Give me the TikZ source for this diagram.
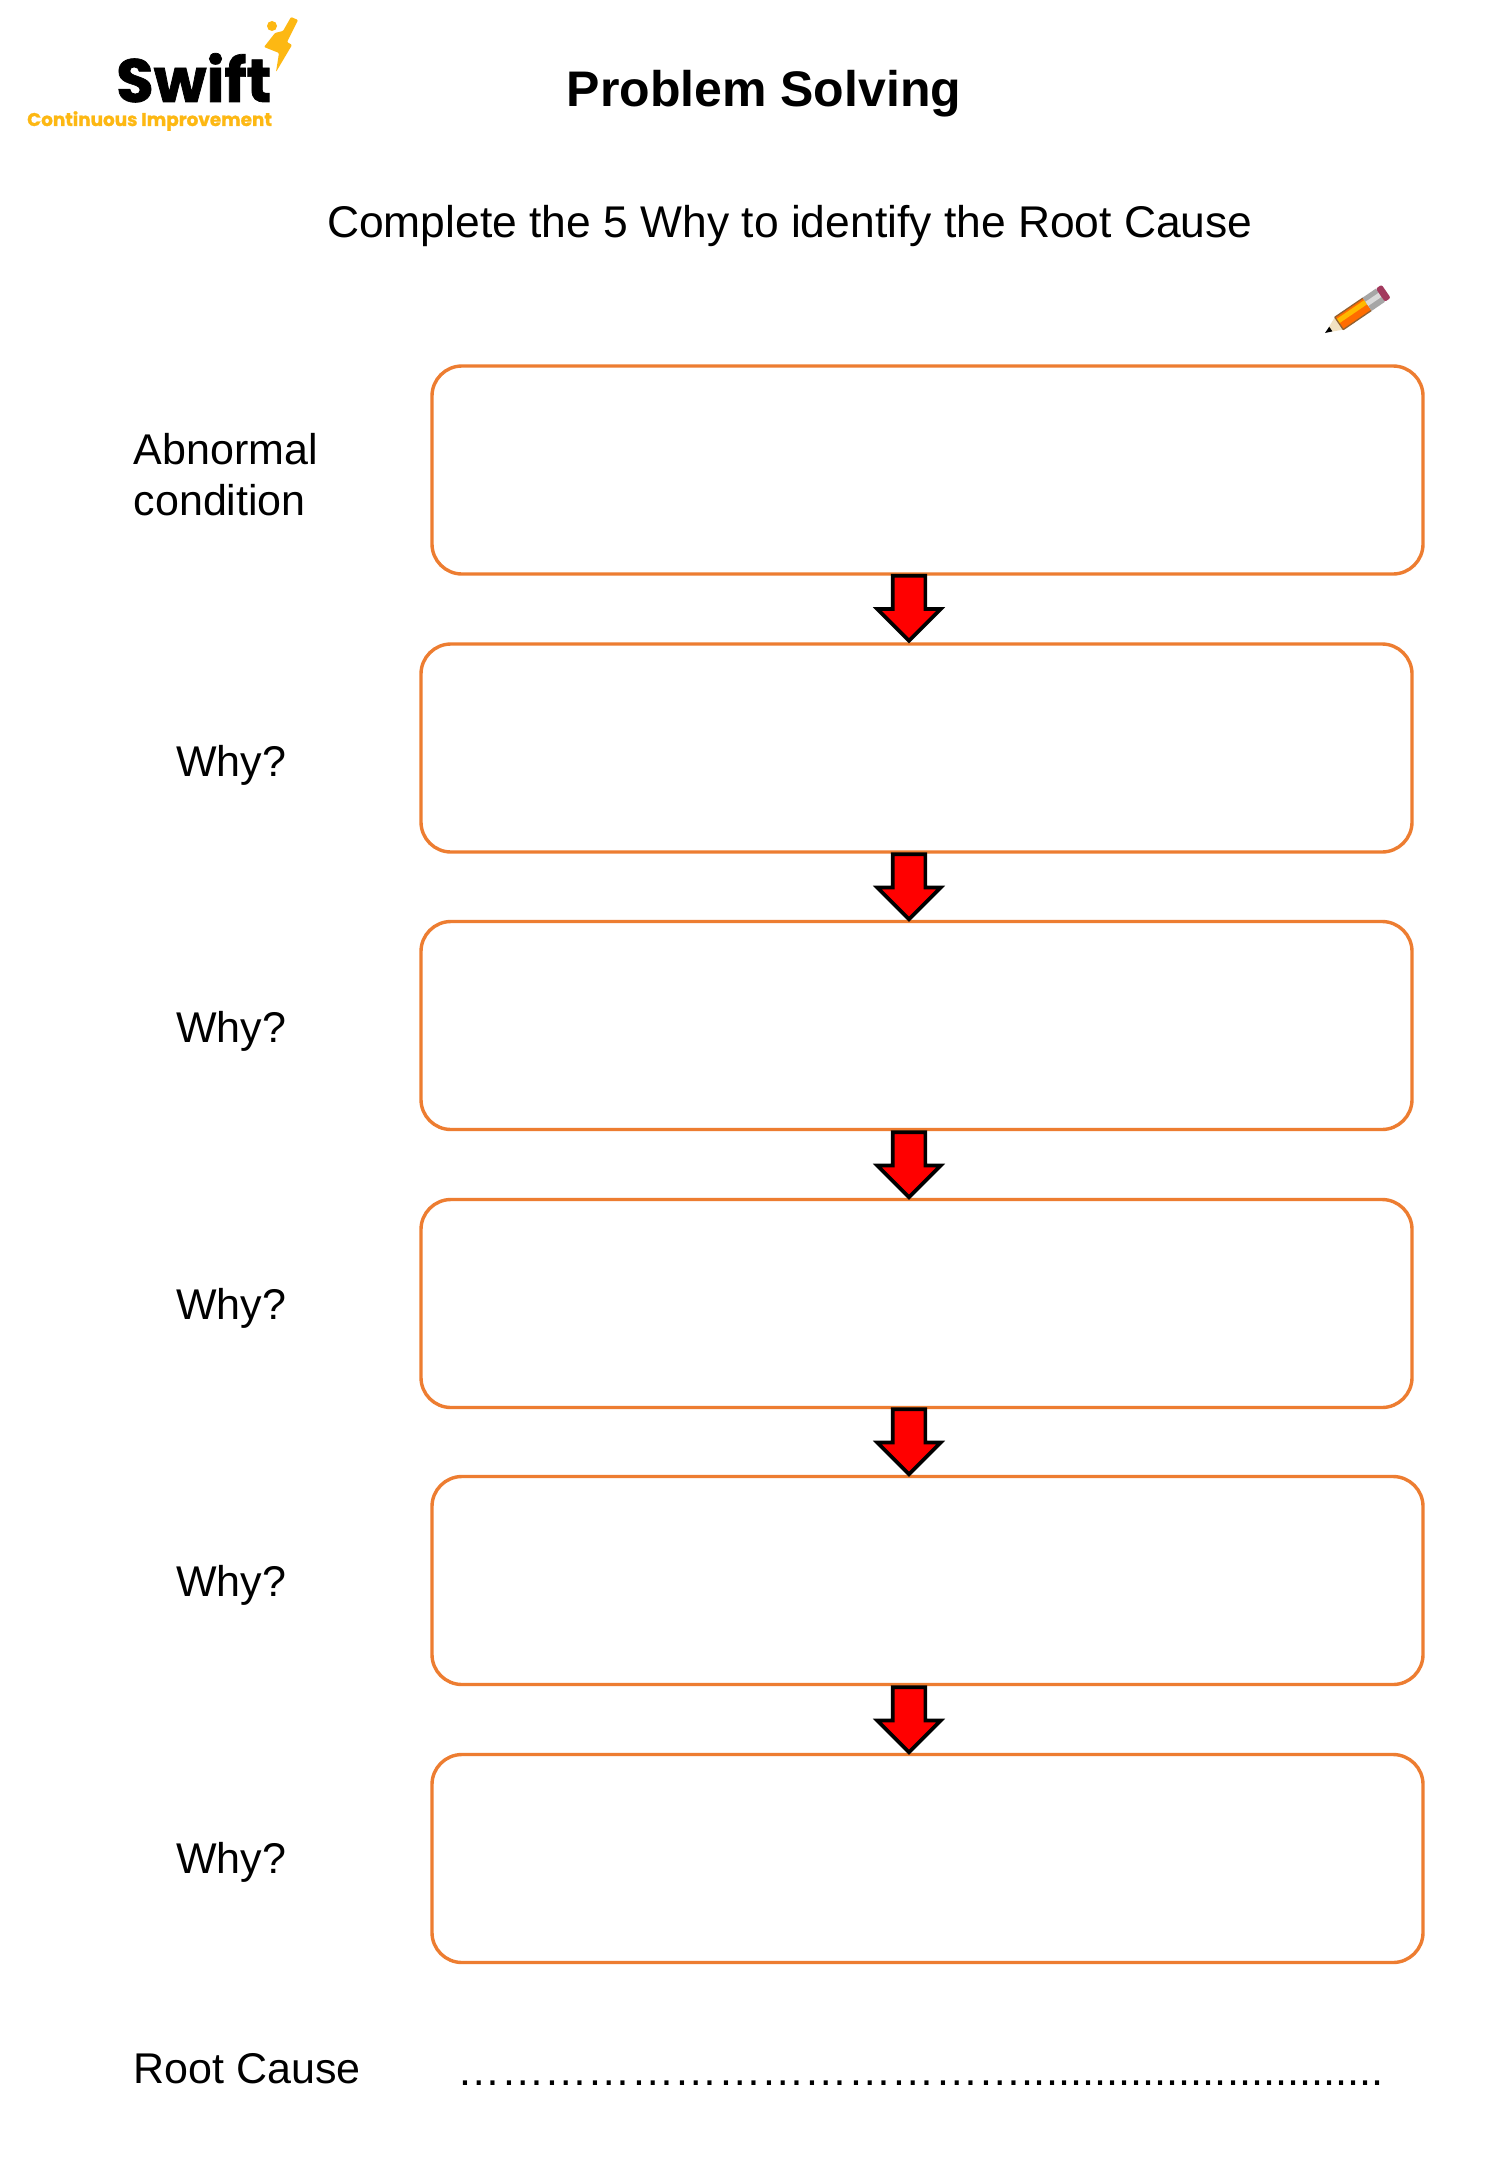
\documentclass[tikz,border=0pt]{standalone}
\usepackage{fontspec}
\setmainfont{Liberation Sans}
\newfontfamily\logofont[BoldFeatures={FakeBold=1.2}]{Poppins}
\usetikzlibrary{shapes.arrows}
\definecolor{boxorange}{HTML}{ED7D31}
\definecolor{swiftamber}{HTML}{FDB813}
\newcommand{\ellgroup}{\char"2026\char"2026\char"2026\char"2026}
\newcommand{\dotgroup}{..........}
\tikzset{
  x=1pt,y=-1pt,
  whybox/.style={draw=boxorange,line width=3.4pt,rounded corners=30pt,fill=white,inner sep=0pt,minimum width=991pt,minimum height=208pt},
  downarrow/.style={single arrow,draw=black,fill=red,line width=3.6pt,rotate=-90,anchor=tip,inner sep=14.5pt,minimum width=60pt,minimum height=65pt,single arrow head extend=15.5pt,single arrow tip angle=90,miter limit=10},
  label/.style={anchor=base west,inner sep=0pt,font=\fontsize{43}{43}\selectfont},
}
\begin{document}
\begin{tikzpicture}
\useasboundingbox (0,0) rectangle (1500,2167);
\fill[white] (0,0) rectangle (1500,2167);
% boxes
\node[whybox] (b1) at (927.5,470) {};
\node[whybox] (b2) at (916.5,748) {};
\node[whybox] (b3) at (916.5,1025.5) {};
\node[whybox] (b4) at (916.5,1303.5) {};
\node[whybox] (b5) at (927.5,1580.5) {};
\node[whybox] (b6) at (927.5,1858.5) {};
% arrows
\coordinate (ax) at (909,0);
\foreach \t/\y/\s in {b2/a1/-1,b3/a2/-2,b4/a3/-2,b5/a4/-2,b6/a5/-2}{
  \node[downarrow] (\y) at ([yshift=\s pt]\t.north -| ax) {};
}
% texts
\node[anchor=base west,inner sep=0pt,font=\fontsize{50}{50}\selectfont\bfseries] (title) at (566.5,106.5) {Problem Solving};
\node[label,font=\fontsize{44.4}{44.4}\selectfont] (sub) at (327,237.5) {Complete the 5 Why to identify the Root Cause};
\node[label] (l1a) at (133.5,464) {Abnormal};
\node[label] (l1b) at (133.5,515) {condition};
\node[label] (l2) at (176.2,776) {Why?};
\node[label] (l3) at (176.2,1042) {Why?};
\node[label] (l4) at (176.2,1319) {Why?};
\node[label] (l5) at (176.2,1596) {Why?};
\node[label] (l6) at (176.2,1873) {Why?};
\node[label] (l7) at (133.5,2083) {Root Cause};
\node[label,font=\fontsize{43.4}{43.4}\selectfont] (dots) at (457.5,2085.5) {\ellgroup\ellgroup\ellgroup\char"2026\dotgroup\dotgroup\dotgroup};
% logo
\node[anchor=base west,inner sep=0pt,font=\logofont\fontsize{61}{61}\selectfont\bfseries] (swift) at (116,102) {Swift};
\node[anchor=base west,inner sep=0pt,text=swiftamber,font=\logofont\fontsize{18.4}{18.4}\selectfont\bfseries] (ci) at (27,126) {Continuous Improvement};
\fill[swiftamber] (272,26) circle (5pt);
\fill[swiftamber,rounded corners=1pt] (291,17) -- (298,20) -- (287,42) -- (292,45) -- (276,72) -- (279,53) -- (264,47) -- (275,33) -- (283,31) -- cycle;
% pencil
\begin{scope}[shift={(1325,333)},rotate=34.3]
  \fill[yellow!20!brown!30!white] (6,-2.5) -- (17,-7.5) -- (17,7.5) -- (6,2.5) -- cycle;
  \fill[black] (0,0) -- (7,-2.8) -- (7,2.8) -- cycle;
  \fill[orange!85!red] (17,-7.5) rectangle (51,7.5);
  \fill[orange!55!yellow] (17,-5) rectangle (51,0);
  \draw[brown!75!black,line width=1.3pt] (17,-7.5) -- (51,-7.5) (17,7.5) -- (51,7.5) (17,-7.5) -- (17,7.5);
  \fill[black!35] (51,-8) rectangle (67,8);
  \fill[black!15] (51,-3) rectangle (67,2);
  \fill[purple!55!gray,rounded corners=2pt] (67,-8) rectangle (74,8);
\end{scope}
\end{tikzpicture}
\end{document}
